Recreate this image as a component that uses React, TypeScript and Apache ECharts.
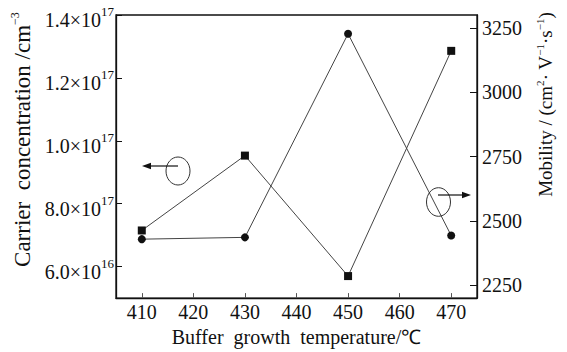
import React, { useEffect, useRef } from "react";
import * as echarts from "echarts";

// Data
const temperatures = [410, 430, 450, 470]; // Buffer growth temperature / ℃
const carrierConc = [0.715, 0.953, 0.57, 1.286]; // ×10^17 cm^-3 (left axis, squares)
const mobility = [2429, 2436, 3227, 2443]; // cm²·V⁻¹·s⁻¹ (right axis, circles)

const xTicks = [410, 420, 430, 440, 450, 460, 470];
const leftTicks = [0.6, 0.8, 1.0, 1.2, 1.4];
const leftMantissa = ["6.0", "8.0", "1.0", "1.2", "1.4"];
const leftExponent = ["16", "17", "17", "17", "17"];
const rightTicks = [2250, 2500, 2750, 3000, 3250];

const FONT = "serif";
const FS = 20;
const GAP = "\u00a0\u00a0";

export default function App() {
  const ref = useRef<HTMLDivElement>(null);
  useEffect(() => {
    if (!ref.current) return;
    const chart = echarts.init(ref.current, undefined, { renderer: "svg" });
    const axisLine = { show: true, lineStyle: { color: "#111", width: 1.3 } };
    const titleRich = (size: number, sup: number) => ({
      t: { fontFamily: FONT, fontSize: size, color: "#111", lineHeight: size + 3 },
      s: {
        fontFamily: FONT,
        fontSize: sup,
        color: "#111",
        lineHeight: sup,
        verticalAlign: "top",
      },
    });
    const option: any = {
      animation: false,
      backgroundColor: "#fff",
      textStyle: { fontFamily: FONT, fontSize: FS, color: "#111" },
      grid: {
        left: 116,
        right: 90,
        top: 15,
        bottom: 51,
        show: true,
        borderColor: "#111",
        borderWidth: 1.3,
      },
      xAxis: {
        type: "value",
        min: 405,
        max: 475,
        name: `Buffer${GAP}growth${GAP}temperature/℃`,
        nameLocation: "middle",
        nameGap: 27,
        nameTextStyle: { fontFamily: FONT, fontSize: 20, color: "#111" },
        axisLine,
        axisTick: {
          show: true,
          inside: true,
          length: 5,
          customValues: xTicks,
          lineStyle: { color: "#555", width: 1 },
        },
        axisLabel: {
          customValues: xTicks,
          margin: 4,
          fontFamily: FONT,
          fontSize: FS,
          color: "#111",
        },
        splitLine: { show: false },
      },
      yAxis: [
        {
          type: "value",
          position: "left",
          min: 0.5,
          max: 1.4,
          name: `{t|Carrier${GAP}concentration /cm}{s|−3}`,
          nameLocation: "middle",
          nameGap: 78,
          nameTextStyle: {
            fontFamily: FONT,
            fontSize: 23,
            color: "#111",
            padding: [0, 0, 0, 34],
            rich: titleRich(23, 12),
          },
          axisLine,
          axisTick: {
            show: true,
            inside: true,
            length: 6,
            customValues: leftTicks,
            lineStyle: { color: "#111", width: 1 },
          },
          axisLabel: {
            customValues: leftTicks,
            margin: 2,
            fontFamily: FONT,
            formatter: (v: number) => {
              const i = leftTicks.findIndex((t) => Math.abs(t - v) < 1e-6);
              if (i < 0) return "";
              return `{m|${leftMantissa[i]}×10}{e|${leftExponent[i]}}`;
            },
            rich: {
              m: {
                fontFamily: FONT,
                fontSize: FS,
                color: "#111",
                lineHeight: 20,
                padding: [10, 0, 0, 0],
              },
              e: {
                fontFamily: FONT,
                fontSize: 13,
                color: "#111",
                lineHeight: 13,
                verticalAlign: "top",
              },
            },
          },
          splitLine: { show: false },
        },
        {
          type: "value",
          position: "right",
          min: 2200,
          max: 3300,
          name: "{t|Mobility / (cm}{s|2}{t|· V}{s|−1}{t|·s}{s|−1}{t|)}",
          nameLocation: "middle",
          nameGap: 57,
          nameTextStyle: {
            fontFamily: FONT,
            fontSize: 19,
            color: "#111",
            padding: [0, 0, 0, 104],
            rich: titleRich(19, 11),
          },
          axisLine,
          axisTick: {
            show: true,
            inside: true,
            length: 7,
            customValues: rightTicks,
            lineStyle: { color: "#111", width: 1 },
          },
          axisLabel: {
            customValues: rightTicks,
            margin: 5,
            formatter: (v: number) => String(v),
            fontFamily: FONT,
            fontSize: FS,
            color: "#111",
          },
          splitLine: { show: false },
        },
      ],
      series: [
        {
          name: "Carrier concentration",
          type: "line",
          yAxisIndex: 0,
          data: temperatures.map((t, i) => [t, carrierConc[i]]),
          symbol: "rect",
          symbolSize: 8,
          lineStyle: { color: "#444", width: 1 },
          itemStyle: { color: "#111" },
          z: 3,
        },
        {
          name: "Mobility",
          type: "line",
          yAxisIndex: 1,
          data: temperatures.map((t, i) => [t, mobility[i]]),
          symbol: "circle",
          symbolSize: 8,
          lineStyle: { color: "#444", width: 1 },
          itemStyle: { color: "#111" },
          z: 3,
        },
      ],
      graphic: [
        {
          type: "ellipse",
          shape: { cx: 178, cy: 171, rx: 12, ry: 14 },
          style: { fill: "none", stroke: "#333", lineWidth: 1 },
          z: 10,
        },
        {
          type: "line",
          shape: { x1: 178, y1: 166, x2: 149, y2: 166 },
          style: { stroke: "#111", lineWidth: 1.2 },
          z: 10,
        },
        {
          type: "polygon",
          shape: { points: [[142, 166], [151, 162.8], [151, 169.2]] },
          style: { fill: "#111" },
          z: 10,
        },
        {
          type: "ellipse",
          shape: { cx: 438.5, cy: 202, rx: 12, ry: 14.3 },
          style: { fill: "none", stroke: "#333", lineWidth: 1 },
          z: 10,
        },
        {
          type: "line",
          shape: { x1: 438, y1: 195, x2: 464, y2: 195 },
          style: { stroke: "#111", lineWidth: 1.2 },
          z: 10,
        },
        {
          type: "polygon",
          shape: { points: [[471, 195], [462, 191.8], [462, 198.2]] },
          style: { fill: "#111" },
          z: 10,
        },
      ],
    };
    chart.setOption(option);
    return () => chart.dispose();
  }, []);
  return (
    <div
      ref={ref}
      style={{ position: "absolute", left: 0, top: 0, width: 567, height: 352 }}
    />
  );
}
